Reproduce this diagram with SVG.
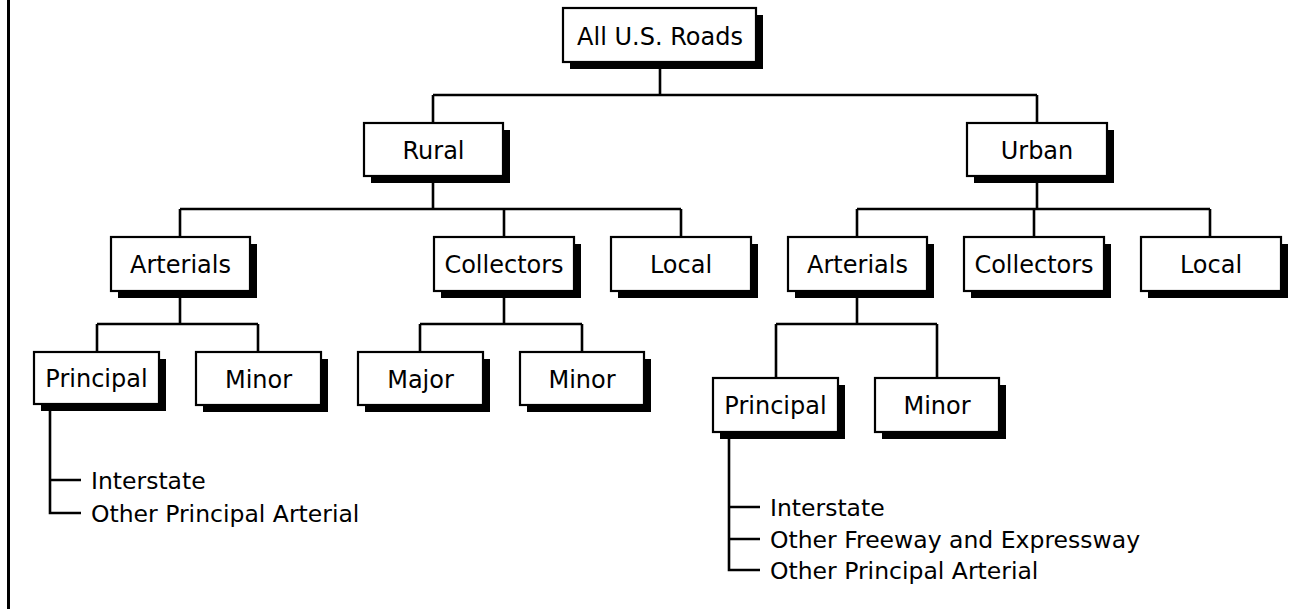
<svg xmlns="http://www.w3.org/2000/svg" width="1301" height="609" viewBox="0 0 1301 609">
<style>
.c{stroke:#000;stroke-width:2.6;fill:none}
.sh{fill:#000}
.bx{fill:#fff;stroke:#000;stroke-width:2.2}
.t{font-family:"DejaVu Sans",Verdana,sans-serif;font-size:24px;fill:#000}
.s{font-size:23.5px}
.m{text-anchor:middle}
</style>
<rect x="0" y="0" width="1301" height="609" fill="#fff"/>
<line x1="8.5" y1="0" x2="8.5" y2="609" stroke="#000" stroke-width="3"/>
<g id="connectors">
<path class="c" d="M660 62V95M433 95H1037M433 95V123M1037 95V123"/>
<path class="c" d="M433 176V209M180 209H681M180 209V237M504 209V237M681 209V237"/>
<path class="c" d="M1037 176V209M857 209H1210M857 209V237M1034 209V237M1210 209V237"/>
<path class="c" d="M180 291V324M97 324H258M97 324V352M258 324V352"/>
<path class="c" d="M504 291V324M420 324H582M420 324V352M582 324V352"/>
<path class="c" d="M857 291V324M776 324H937M776 324V378M937 324V378"/>
<path class="c" d="M50 404V513H81M50 480H81"/>
<path class="c" d="M729 432V570H760M729 507H760M729 539H760"/>
</g>
<g id="n-all">
<rect class="sh" x="570" y="15" width="193" height="54"/>
<rect class="bx" x="563" y="8" width="193" height="54"/>
<text class="t m" x="660" y="44.5">All U.S. Roads</text>
</g>
<g id="n-rural">
<rect class="sh" x="371" y="130" width="139" height="53"/>
<rect class="bx" x="364" y="123" width="139" height="53"/>
<text class="t m" x="433.5" y="158.5">Rural</text>
</g>
<g id="n-urban">
<rect class="sh" x="974" y="130" width="140" height="53"/>
<rect class="bx" x="967" y="123" width="140" height="53"/>
<text class="t m" x="1037" y="158.5">Urban</text>
</g>
<g id="n-r-arterials">
<rect class="sh" x="118" y="244" width="139" height="54"/>
<rect class="bx" x="111" y="237" width="139" height="54"/>
<text class="t m" x="180.5" y="273">Arterials</text>
</g>
<g id="n-r-collectors">
<rect class="sh" x="441" y="244" width="140" height="54"/>
<rect class="bx" x="434" y="237" width="140" height="54"/>
<text class="t m" x="504" y="273">Collectors</text>
</g>
<g id="n-r-local">
<rect class="sh" x="618" y="244" width="140" height="54"/>
<rect class="bx" x="611" y="237" width="140" height="54"/>
<text class="t m" x="681" y="273">Local</text>
</g>
<g id="n-u-arterials">
<rect class="sh" x="795" y="244" width="139" height="54"/>
<rect class="bx" x="788" y="237" width="139" height="54"/>
<text class="t m" x="857.5" y="273">Arterials</text>
</g>
<g id="n-u-collectors">
<rect class="sh" x="971" y="244" width="140" height="54"/>
<rect class="bx" x="964" y="237" width="140" height="54"/>
<text class="t m" x="1034" y="273">Collectors</text>
</g>
<g id="n-u-local">
<rect class="sh" x="1148" y="244" width="140" height="54"/>
<rect class="bx" x="1141" y="237" width="140" height="54"/>
<text class="t m" x="1211" y="273">Local</text>
</g>
<g id="n-r-principal">
<rect class="sh" x="41" y="359" width="125" height="52"/>
<rect class="bx" x="34" y="352" width="125" height="52"/>
<text class="t m" x="96.5" y="387">Principal</text>
</g>
<g id="n-r-minor">
<rect class="sh" x="203" y="359" width="125" height="53"/>
<rect class="bx" x="196" y="352" width="125" height="53"/>
<text class="t m" x="258.5" y="387.5">Minor</text>
</g>
<g id="n-r-major">
<rect class="sh" x="365" y="359" width="125" height="53"/>
<rect class="bx" x="358" y="352" width="125" height="53"/>
<text class="t m" x="420.5" y="387.5">Major</text>
</g>
<g id="n-r-cminor">
<rect class="sh" x="527" y="359" width="124" height="53"/>
<rect class="bx" x="520" y="352" width="124" height="53"/>
<text class="t m" x="582" y="387.5">Minor</text>
</g>
<g id="n-u-principal">
<rect class="sh" x="720" y="385" width="125" height="54"/>
<rect class="bx" x="713" y="378" width="125" height="54"/>
<text class="t m" x="775.5" y="413.5">Principal</text>
</g>
<g id="n-u-minor">
<rect class="sh" x="882" y="385" width="124" height="54"/>
<rect class="bx" x="875" y="378" width="124" height="54"/>
<text class="t m" x="937" y="413.5">Minor</text>
</g>
<g id="n-r-sub">
<text class="t s" x="91" y="489">Interstate</text>
<text class="t s" x="91" y="522">Other Principal Arterial</text>
</g>
<g id="n-u-sub">
<text class="t s" x="770" y="516">Interstate</text>
<text class="t s" x="770" y="548">Other Freeway and Expressway</text>
<text class="t s" x="770" y="579">Other Principal Arterial</text>
</g>
</svg>
